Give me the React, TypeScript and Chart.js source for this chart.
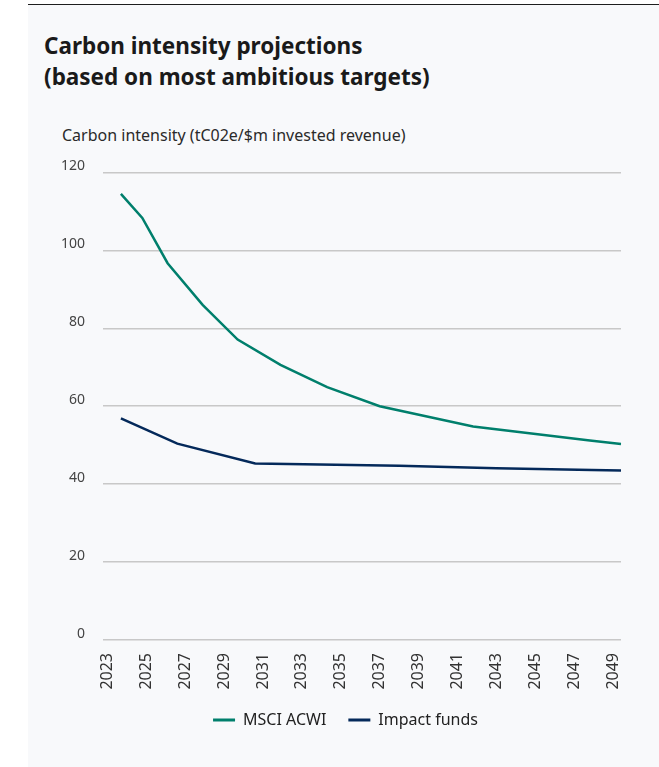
import React, { useEffect, useRef } from "react";
import { Chart, registerables } from "chart.js";

Chart.register(...registerables);

const TITLE_LINES = ["Carbon intensity projections", "(based on most ambitious targets)"];
const Y_AXIS_LABEL = "Carbon intensity (tC02e/$m invested revenue)";
const SERIES_NAMES = ["MSCI ACWI", "Impact funds"];
const SERIES_COLORS = ["#007f6c", "#04295a"];

const YEAR_TICKS = [2023, 2025, 2027, 2029, 2031, 2033, 2035, 2037, 2039, 2041, 2043, 2045, 2047, 2049];
const Y_TICKS = [0, 20, 40, 60, 80, 100, 120];

const MSCI_YEARS = [2023.7, 2024.8, 2026.1, 2027.9, 2029.7, 2031.9, 2034.3, 2037.0, 2041.8, 2047.8, 2049.4];
const MSCI_VALUES = [114.5, 108.3, 96.7, 86.0, 77.1, 70.6, 64.9, 60.0, 54.8, 51.2, 50.3];

const IMPACT_YEARS = [2023.7, 2026.6, 2030.6, 2033.1, 2038.0, 2043.0, 2047.9, 2049.4];
const IMPACT_VALUES = [56.9, 50.4, 45.3, 45.1, 44.7, 44.1, 43.6, 43.5];

const FONT = "'Noto Sans', sans-serif";

// shifts the legend box so the legend is centred under the plot like the original
const legendShift = {
  id: "legendShift",
  afterLayout(chart: any) {
    if (chart.legend) chart.legend.left = 70;
  },
};

export default function App() {
  const ref = useRef<HTMLCanvasElement | null>(null);

  useEffect(() => {
    if (!ref.current) return;
    Chart.defaults.font.family = FONT;
    const toPoints = (xs: number[], ys: number[]) => xs.map((x, i) => ({ x, y: ys[i] }));
    const chart = new Chart(ref.current, {
      type: "line",
      data: {
        datasets: [
          {
            label: SERIES_NAMES[0],
            data: toPoints(MSCI_YEARS, MSCI_VALUES),
            borderColor: SERIES_COLORS[0],
            backgroundColor: SERIES_COLORS[0],
            borderWidth: 2.5,
            pointRadius: 0,
            tension: 0,
            clip: 4,
          },
          {
            label: SERIES_NAMES[1],
            data: toPoints(IMPACT_YEARS, IMPACT_VALUES),
            borderColor: SERIES_COLORS[1],
            backgroundColor: SERIES_COLORS[1],
            borderWidth: 2.5,
            pointRadius: 0,
            tension: 0,
            clip: 4,
          },
        ],
      },
      options: {
        animation: false,
        responsive: false,
        maintainAspectRatio: false,
        layout: { padding: { top: 0, right: 38, left: 40, bottom: 22 } },
        plugins: {
          tooltip: { enabled: false },
          legend: {
            position: "bottom",
            labels: {
              boxWidth: 22,
              boxHeight: 3,
              padding: 22,
              color: "#222",
              font: { size: 16, family: FONT },
              generateLabels: (c: any) =>
                Chart.defaults.plugins.legend.labels
                  .generateLabels(c)
                  .map((l: any) => ({ ...l, lineWidth: 0, fillStyle: l.strokeStyle })),
            },
          },
        },
        scales: {
          x: {
            type: "linear",
            min: 2022.78,
            max: 2049.4,
            grid: { display: false, drawTicks: false },
            border: { display: false },
            afterBuildTicks: (s: any) => {
              s.ticks = YEAR_TICKS.map((v) => ({ value: v }));
            },
            afterFit: (s: any) => {
              s.height = 50;
            },
            ticks: {
              autoSkip: false,
              minRotation: 90,
              maxRotation: 90,
              padding: 13,
              color: "#333",
              font: { size: 16, family: FONT },
              callback: (v: any) => String(v),
            },
          },
          y: {
            min: 0,
            max: 120,
            afterBuildTicks: (s: any) => {
              s.ticks = Y_TICKS.map((v) => ({ value: v }));
            },
            afterFit: (s: any) => {
              s.width = 63;
            },
            grid: { color: "#c8c8c8", lineWidth: 1.5, drawTicks: false },
            border: { display: false },
            ticks: {
              padding: 18,
              labelOffset: -6,
              color: "#444",
              font: { size: 14, family: FONT },
              callback: (v: any) => String(v),
            },
          },
        },
      },
      plugins: [legendShift],
    } as any);
    return () => chart.destroy();
  }, []);

  return (
    <div
      style={{
        position: "fixed",
        left: 0,
        top: 0,
        width: 659,
        height: 767,
        background: "#ffffff",
        overflow: "hidden",
        fontFamily: FONT,
      }}
    >
      <div
        style={{
          position: "absolute",
          left: 28,
          top: 4,
          right: 0,
          bottom: 0,
          background: "#f8f9fb",
          borderTop: "1.5px solid #1e1e1e",
        }}
      />
      <div
        style={{
          position: "absolute",
          left: 44,
          top: 30,
          fontSize: 22.5,
          fontWeight: 700,
          lineHeight: "31px",
          color: "#1a1a1a",
          whiteSpace: "nowrap",
        }}
      >
        {TITLE_LINES.map((t) => (
          <div key={t}>{t}</div>
        ))}
      </div>
      <div
        style={{
          position: "absolute",
          left: 62,
          top: 125,
          fontSize: 16,
          lineHeight: "20px",
          color: "#2a2a2a",
          whiteSpace: "nowrap",
        }}
      >
        {Y_AXIS_LABEL}
      </div>
      <canvas
        ref={ref}
        width={659}
        height={614}
        style={{ position: "absolute", left: 0, top: 146, width: 659, height: 614 }}
      />
    </div>
  );
}
